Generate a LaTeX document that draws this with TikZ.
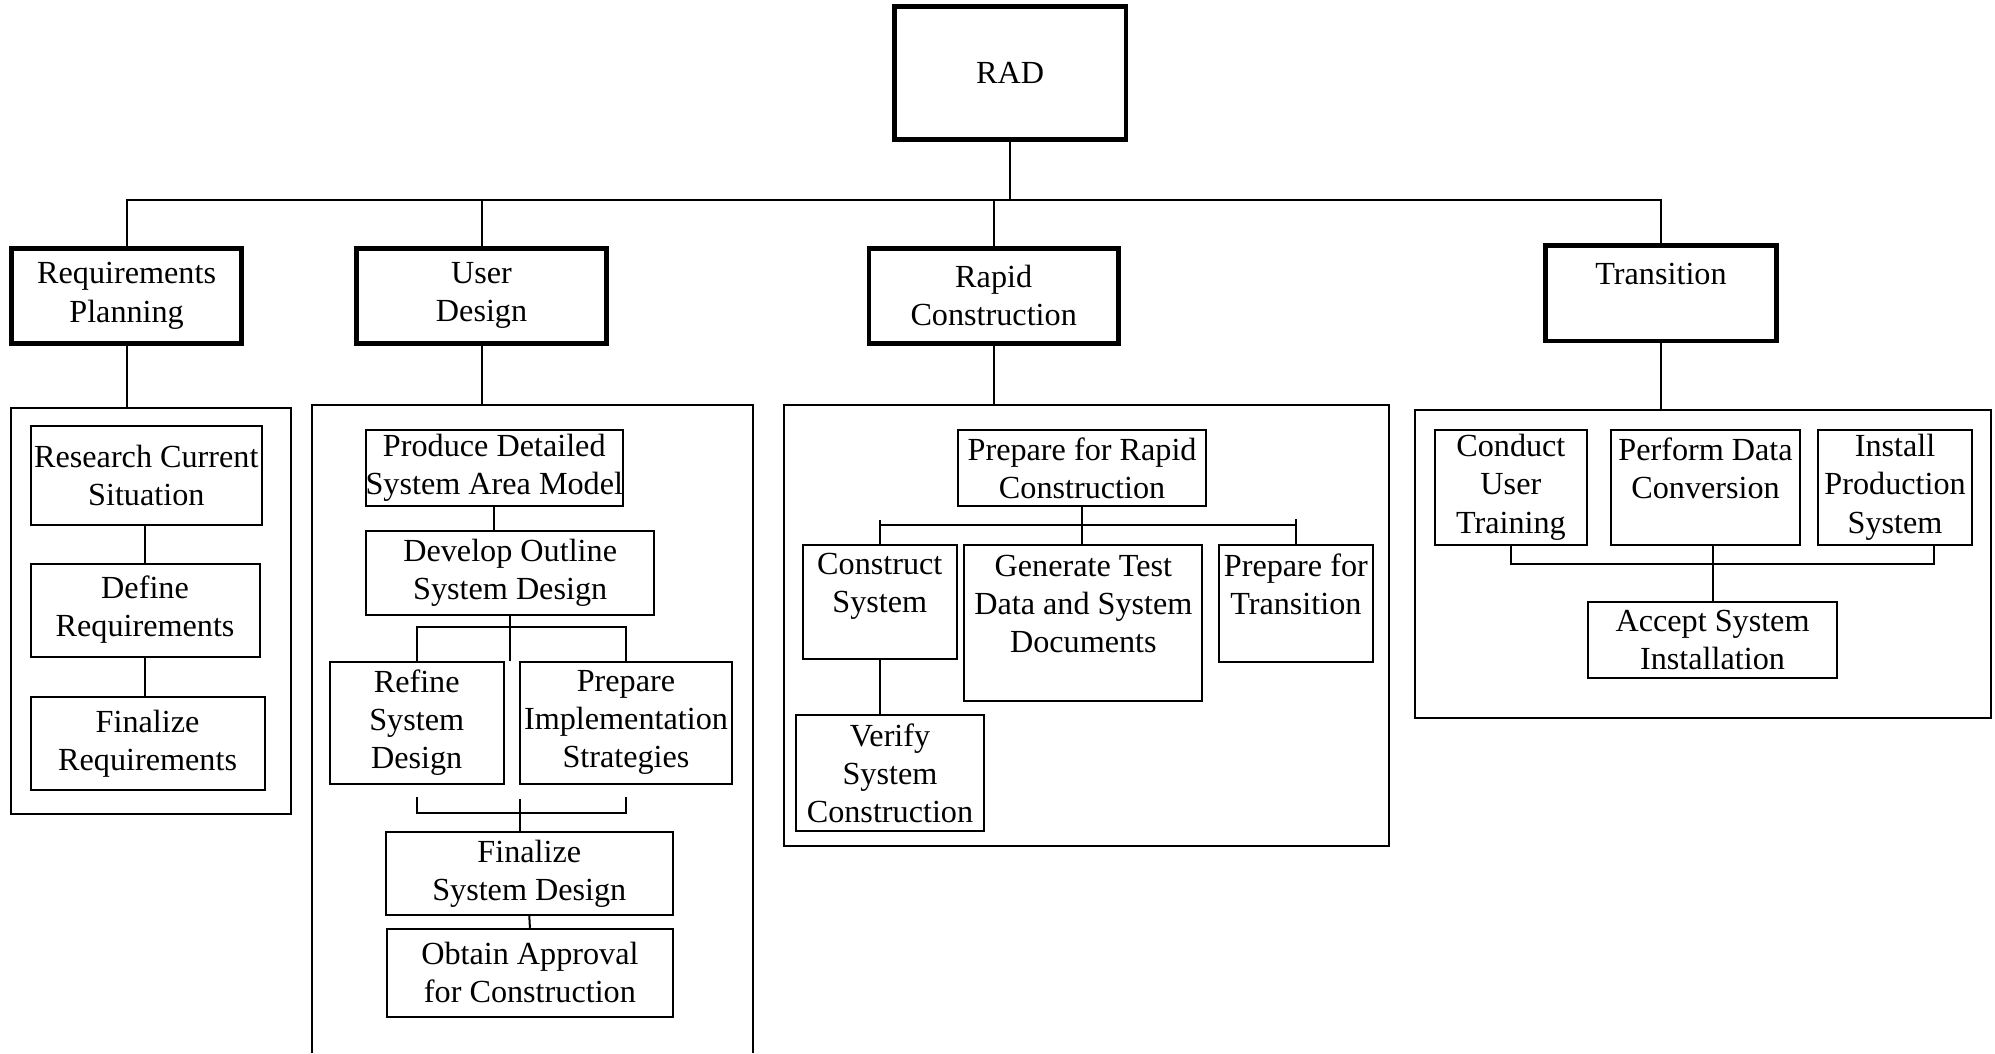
\documentclass[tikz,border=0pt]{standalone}
\usepackage{fontspec}
\setmainfont{Liberation Serif}
\usetikzlibrary{calc}
\begin{document}
\begin{tikzpicture}[x=0.1mm,y=-0.1mm,
  font=\fontsize{7.2}{8.5}\selectfont,
  phase/.style={draw,line width=1.1pt,inner sep=0pt,align=center},
  task/.style={draw,line width=.45pt,inner sep=0pt,align=center},
  group/.style={draw,line width=.45pt,inner sep=0pt},
  link/.style={line width=.45pt}]
\useasboundingbox (0,0) rectangle (1568,828);

\node[phase,minimum width=18.2mm,minimum height=10.5mm] (rad) at (794,57.5) {RAD};
\node[phase,minimum width=18.1mm,minimum height=7.5mm] (rp) at (99.5,232.5) {Requirements\\Planning};
\node[phase,minimum width=19.7mm,minimum height=7.5mm] (ud) at (378.5,232.5) {User\\Design};
\node[phase,minimum width=19.6mm,minimum height=7.5mm] (rc) at (781,232.5) {Rapid\\Construction};
\node[phase,minimum width=18.1mm,minimum height=7.5mm] (tr) at (1305.5,230.5) {Transition\\\mbox{}};

\coordinate (topbus) at (0,157);
\draw[link] (rad.south) -- (rad.south |- topbus);
\draw[link] (rp.north) |- (tr.north |- topbus) -- (tr.north);
\draw[link] (ud.north) -- (ud.north |- topbus);
\draw[link] (rc.north) -- (rc.north |- topbus);

\node[group,minimum width=22mm,minimum height=31.9mm] (rpgroup) at (119,480.5) {};
\draw[link] (245,828) |- (592,318) -- (592,828);
\coordinate (udgroup) at (378.5,318);
\node[group,minimum width=47.6mm,minimum height=34.7mm] (rcgroup) at (854,491.5) {};
\node[group,minimum width=45.3mm,minimum height=24.2mm] (trgroup) at (1338.5,443) {};

\draw[link] (rp.south) -- (rp.south |- rpgroup.north);
\draw[link] (ud.south) -- (udgroup);
\draw[link] (rc.south) -- (rc.south |- rcgroup.north);
\draw[link] (tr.south) -- (tr.south |- trgroup.north);

\node[task,minimum width=18.2mm,minimum height=7.8mm] (t11) at (115,374) {Research Current\\Situation};
\node[task,minimum width=18mm,minimum height=7.3mm] (t12) at (114,479.5) {Define\\Requirements};
\node[task,minimum width=18.4mm,minimum height=7.3mm] (t13) at (116,584.5) {Finalize\\Requirements};
\draw[link] (t12.north) -- (t12.north |- t11.south);
\draw[link] (t12.south) -- (t12.south |- t13.north);

\node[task,minimum width=19.7mm,minimum height=6mm] (u1) at (388.5,368) {Produce Detailed\\System Area Model};
\node[task,minimum width=22.6mm,minimum height=6.6mm] (u2) at (401,450) {Develop Outline\\System Design};
\node[task,minimum width=13.7mm,minimum height=9.6mm] (u3) at (327.5,568) {Refine\\System\\Design};
\node[task,minimum width=16.6mm,minimum height=9.6mm] (u4) at (492,568) {Prepare\\Implementation\\Strategies};
\node[task,minimum width=22.6mm,minimum height=6.5mm] (u5) at (416,686.5) {Finalize\\System Design};
\node[task,minimum width=22.5mm,minimum height=6.9mm] (u6) at (416.5,764.5) {Obtain Approval\\for Construction};
\coordinate (udsplit) at (0,493);
\coordinate (udmerge) at (409,628);
\draw[link] (u1.south) -- (u1.south |- u2.north);
\draw[link] (u2.south) -- (u2.south |- u3.north);
\draw[link] (u3.north) |- (u4.north |- udsplit) -- (u4.north);
\draw[link] ($(u3.south)+(0,10)$) |- ($(u4.south)+(0,22)$) -- ($(u4.south)+(0,10)$);
\draw[link] (udmerge) -- (udmerge |- u5.north);
\draw[link] (u5.south) -- (u6.north);

\node[task,minimum width=19.5mm,minimum height=6mm] (c1) at (850.5,368) {Prepare for Rapid\\Construction};
\node[task,minimum width=12.1mm,minimum height=9mm] (c2) at (691.5,473) {Construct\\System\\\mbox{}};
\node[task,minimum width=18.7mm,minimum height=12.3mm] (c3) at (851.5,489.5) {Generate Test\\Data and System\\Documents\\\mbox{}};
\node[task,minimum width=12.1mm,minimum height=9.2mm] (c4) at (1018.5,474) {Prepare for\\Transition\\\mbox{}};
\node[task,minimum width=14.7mm,minimum height=9.1mm] (c5) at (699.5,607.5) {Verify\\System\\Construction};
\coordinate (rcbus) at (0,413);
\draw[link] (c1.south) -- (c1.south |- c3.north);
\draw[link] (c2.north |- rcbus) -- (c4.north |- rcbus);
\draw[link] (c2.north) -- ($(c2.north |- rcbus)+(0,-4)$);
\draw[link] (c4.north) -- ($(c4.north |- rcbus)+(0,-5)$);
\draw[link] (c2.south) -- (c2.south |- c5.north);

\node[task,minimum width=11.9mm,minimum height=9mm] (s1) at (1187.5,383) {Conduct\\User\\Training};
\node[task,minimum width=14.9mm,minimum height=9mm] (s2) at (1340.5,383) {Perform Data\\Conversion\\\mbox{}};
\node[task,minimum width=12.1mm,minimum height=9mm] (s3) at (1489.5,383) {Install\\Production\\System};
\node[task,minimum width=19.6mm,minimum height=6mm] (s4) at (1346,503) {Accept System\\Installation};
\coordinate (trbus) at (1520,443);
\draw[link] (s1.south) |- (trbus) -- (trbus |- s3.south);
\draw[link] (s4.north) -- (s4.north |- s2.south);
\end{tikzpicture}
\end{document}
